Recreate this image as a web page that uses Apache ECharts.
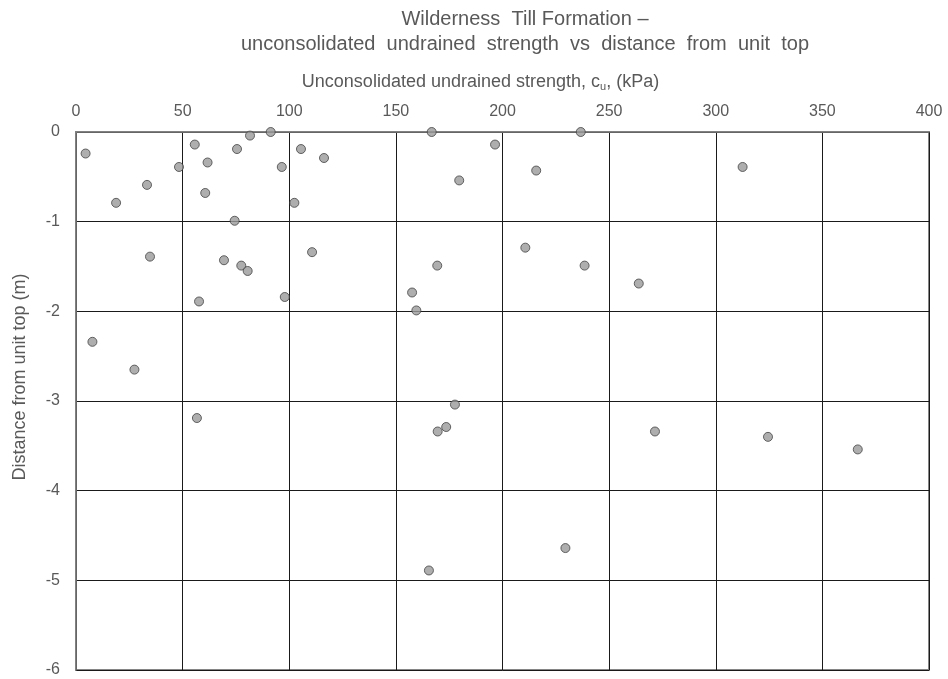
<!DOCTYPE html>
<html>
<head>
<meta charset="utf-8">
<style>
  html, body { margin: 0; padding: 0; background: #fff; }
  #chart { width: 948px; height: 679px; }
</style>
<script src="https://cdn.jsdelivr.net/npm/echarts@6/dist/echarts.min.js"></script>
</head>
<body>
<div id="chart"></div>
<script>
// Unconsolidated undrained strength c_u (kPa) of each test
const strengthKPa = [
  4.5, 18.8, 33.3, 48.3, 55.7, 61.7, 60.6, 75.5, 81.6, 91.3,
  96.5, 102.4, 105.5, 116.3, 74.4, 34.7, 69.4, 77.5, 80.5, 110.7,
  57.7, 97.9, 7.7, 27.4, 56.7, 166.8, 236.7, 196.5, 179.7, 215.8,
  210.7, 169.4, 238.5, 157.6, 159.6, 263.9, 312.6, 177.7, 173.6, 169.6,
  165.5, 271.5, 324.5, 366.6, 229.5
];
// Matching distance below the top of the unit (m, negative downwards)
const depthM = [
  -0.24, -0.79, -0.59, -0.39, -0.14, -0.34, -0.68, -0.19, -0.04, 0.0,
  -0.39, -0.79, -0.19, -0.29, -0.99, -1.39, -1.43, -1.49, -1.55, -1.34,
  -1.89, -1.84, -2.34, -2.65, -3.19, 0.0, 0.0, -0.14, -0.54, -0.43,
  -1.29, -1.49, -1.49, -1.79, -1.99, -1.69, -0.39, -3.04, -3.29, -3.34,
  -4.89, -3.34, -3.40, -3.54, -4.64
];

const titleLines = [
  'Wilderness  Till Formation \u2013',
  'unconsolidated  undrained  strength  vs  distance  from  unit  top'
];
const xAxisName = 'Unconsolidated undrained strength, c{sub|u}, (kPa)';
const yAxisName = 'Distance from unit top (m)';
const xRange = [0, 400, 50];
const yRange = [-6, 0, 1];

const points = strengthKPa.map((v, i) => [v, depthM[i]]);

const font = '"Liberation Sans", Arial, sans-serif';
const textGrey = '#595959';

const chart = echarts.init(document.getElementById('chart'));
chart.setOption({
  animation: false,
  backgroundColor: '#ffffff',
  // two-line heading, centred a little right of the page middle
  graphic: titleLines.map((line, i) => ({
    type: 'text',
    x: 525,
    y: 19 + i * 25,
    style: {
      text: line,
      fontFamily: font, fontSize: 20,
      fill: textGrey,
      textAlign: 'center', textVerticalAlign: 'middle'
    }
  })),
  grid: {
    left: 76, right: 19, top: 132, bottom: 9,
    show: true, borderColor: '#858585', borderWidth: 2,
    containLabel: false
  },
  xAxis: {
    type: 'value', position: 'top',
    min: xRange[0], max: xRange[1], interval: xRange[2],
    name: xAxisName, nameLocation: 'middle', nameGap: 40,
    nameTextStyle: {
      fontFamily: font, fontSize: 18, color: textGrey,
      padding: [0, 44, 0, 0],
      rich: { sub: { fontSize: 11, verticalAlign: 'bottom', padding: [8, 0, 0, 0], color: textGrey, fontFamily: font } }
    },
    axisLine: { show: true, lineStyle: { color: '#808080', width: 1.5 } },
    axisTick: { show: false },
    axisLabel: { fontFamily: font, fontSize: 16, color: textGrey, margin: 12 },
    splitLine: { show: true, lineStyle: { color: '#1a1a1a', width: 1 } }
  },
  yAxis: {
    type: 'value',
    min: yRange[0], max: yRange[1], interval: yRange[2],
    name: yAxisName, nameLocation: 'middle', nameGap: 47, nameRotate: 90,
    nameTextStyle: {
      fontFamily: font, fontSize: 18, color: textGrey,
      padding: [0, 0, 0, 48]
    },
    axisLine: { show: true, lineStyle: { color: '#808080', width: 1.5 } },
    axisTick: { show: false },
    axisLabel: { fontFamily: font, fontSize: 16, color: textGrey, margin: 16 },
    splitLine: { show: true, lineStyle: { color: '#1a1a1a', width: 1 } }
  },
  series: [{
    type: 'scatter',
    data: points,
    symbol: 'circle',
    symbolSize: 9,
    clip: false,
    itemStyle: { color: '#9a9a9a', borderColor: '#444444', borderWidth: 1 }
  }]
});
</script>
</body>
</html>
